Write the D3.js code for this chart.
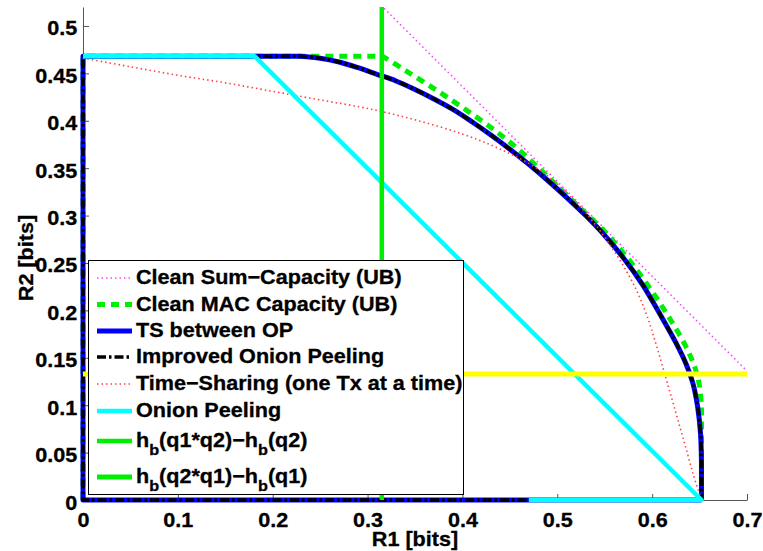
<!DOCTYPE html>
<html>
<head>
<meta charset="utf-8">
<script src="https://cdn.jsdelivr.net/npm/d3@7"></script>
<style>
  body { margin: 0; background: #fff; }
  svg text { font-family: "Liberation Sans", Arial, Helvetica, sans-serif; font-weight: bold;
             stroke: #000; stroke-width: 0.3px; }
</style>
</head>
<body>
<div id="container"></div>
<script>
// ---------------------------- DATA ----------------------------//
var xTicks = [0, 0.1, 0.2, 0.3, 0.4, 0.5, 0.6, 0.7];
var xTickLabels = ["0", "0.1", "0.2", "0.3", "0.4", "0.5", "0.6", "0.7"];
var yTicks = [0, 0.05, 0.1, 0.15, 0.2, 0.25, 0.3, 0.35, 0.4, 0.45, 0.5];
var yTickLabels = ["0", "0.05", "0.1", "0.15", "0.2", "0.25", "0.3", "0.35", "0.4", "0.45", "0.5"];

// [R1, R2] pairs
var sumCapacity = [[0.20, 0.636], [0.70, 0.136]];
var macCapacity = [[0, 0], [0, 0.468], [0.316, 0.468], [0.34, 0.453], [0.37, 0.434], [0.40, 0.414],
  [0.43, 0.393], [0.46, 0.369], [0.49, 0.341], [0.52, 0.312], [0.55, 0.283], [0.575, 0.254],
  [0.60, 0.220], [0.62, 0.189], [0.635, 0.163], [0.645, 0.140], [0.650, 0.120], [0.652, 0.098],
  [0.652, 0]];
var tsBetweenOP = [[0.652, 0], [0, 0], [0, 0.468], [0.229, 0.468], [0.25, 0.466], [0.27, 0.462],
  [0.29, 0.456], [0.31, 0.449], [0.33, 0.442], [0.35, 0.433], [0.37, 0.423], [0.39, 0.412],
  [0.41, 0.399], [0.43, 0.385], [0.45, 0.370], [0.47, 0.354], [0.49, 0.337], [0.51, 0.319],
  [0.53, 0.300], [0.55, 0.279], [0.57, 0.255], [0.59, 0.227], [0.61, 0.193], [0.625, 0.166],
  [0.636, 0.143], [0.643, 0.123], [0.648, 0.098], [0.651, 0.070], [0.652, 0.04], [0.652, 0]];
var improvedOP = tsBetweenOP;
var timeSharing = [[0, 0.466], [0.05, 0.457], [0.10, 0.448], [0.15, 0.440], [0.20, 0.431],
  [0.25, 0.422], [0.30, 0.413], [0.35, 0.401], [0.40, 0.386], [0.44, 0.370], [0.48, 0.349],
  [0.51, 0.324], [0.535, 0.297], [0.555, 0.270], [0.572, 0.243], [0.585, 0.218], [0.595, 0.193],
  [0.603, 0.168], [0.611, 0.141], [0.619, 0.113], [0.627, 0.085], [0.635, 0.057], [0.643, 0.028],
  [0.652, 0]];
var onionPeeling = [[0, 0.468], [0.181, 0.468], [0.652, 0], [0.47, 0]];
var hbLine1 = [[0.315, 0], [0.315, 0.6]];
var hbLine2 = [[0, 0.133], [0.7, 0.133]];

var legendLabels = ["Clean Sum\u2212Capacity (UB)", "Clean MAC Capacity (UB)", "TS between OP",
  "Improved Onion Peeling", "Time\u2212Sharing (one Tx at a time)", "Onion Peeling",
  "h_b(q1*q2)\u2212h_b(q2)", "h_b(q2*q1)\u2212h_b(q1)"];

// ---------------------------- SETUP ----------------------------//
var width = 763, height = 551;
var fontSize = 20;
var stretchX = 1.08;   // the reference glyphs are a bit wider than Liberation Sans

var svg = d3.select("div#container").append("svg")
    .attr("width", width)
    .attr("height", height);

var xScale = d3.scaleLinear().domain([0, 0.7]).range([83, 747]);
var yScale = d3.scaleLinear().domain([0, 0.52]).range([500, 7]);

svg.append("clipPath").attr("id", "plotclip")
    .append("rect")
    .attr("x", xScale(0) - 4).attr("y", yScale(0.52))
    .attr("width", xScale(0.7) - xScale(0) + 4)
    .attr("height", yScale(0) - yScale(0.52) + 4);

// widen a text horizontally around its anchor x
function stretch(sel, pre) {
  sel.each(function() {
    var t = d3.select(this);
    var ax = +t.attr("x") || 0;
    t.attr("transform", (pre || "") + "translate(" + ax + ",0) scale(" + stretchX + ",1) translate(" + (-ax) + ",0)");
  });
}

// ---------------------------- AXES ----------------------------//
var xaxis = d3.axisBottom(xScale)
    .tickValues(xTicks)
    .tickFormat(function(d, i) { return xTickLabels[i]; })
    .tickSizeInner(-6).tickSizeOuter(0).tickPadding(12.5);
var yaxis = d3.axisLeft(yScale)
    .tickValues(yTicks)
    .tickFormat(function(d, i) { return yTickLabels[i]; })
    .tickSizeInner(-6).tickSizeOuter(0).tickPadding(5.7);

var gx = svg.append("g").attr("transform", "translate(0," + yScale(0) + ")").call(xaxis);
var gy = svg.append("g").attr("transform", "translate(" + xScale(0) + ",0)").call(yaxis);
[gx, gy].forEach(function(g) {
  g.select(".domain").attr("stroke", "#555");
  g.selectAll(".tick line").attr("stroke", "#555");
  g.selectAll(".tick text").attr("fill", "#000").style("font-size", fontSize + "px")
    .style("font-family", "'Liberation Sans', Arial, sans-serif").style("font-weight", "bold");
});
gy.selectAll(".tick text").attr("dy", "0.45em");
stretch(gx.selectAll(".tick text"));
stretch(gy.selectAll(".tick text"));

svg.append("text")
    .attr("x", 415).attr("y", 546)
    .style("text-anchor", "middle").style("font-size", fontSize + "px")
    .text("R1 [bits]")
    .call(stretch);
svg.append("text")
    .attr("transform", "translate(33,258) rotate(-90) scale(" + stretchX + ",1)")
    .style("text-anchor", "middle").style("font-size", fontSize + "px")
    .text("R2 [bits]");

// ---------------------------- LINES ----------------------------//
var line = d3.line()
    .x(function(d) { return xScale(d[0]); })
    .y(function(d) { return yScale(d[1]); });
var smoothLine = d3.line()
    .x(function(d) { return xScale(d[0]); })
    .y(function(d) { return yScale(d[1]); })
    .curve(d3.curveCatmullRom.alpha(0.5));

// straight axis-aligned pieces stay straight, the rest is smoothed
function pathFor(pts) {
  var runs = [];
  for (var k = 0; k < pts.length - 1; k++) {
    var a = pts[k], b = pts[k + 1];
    var smooth = !(a[0] === b[0] || a[1] === b[1]);
    var last = runs[runs.length - 1];
    if (last && last.smooth === smooth) last.pts.push(b);
    else runs.push({ smooth: smooth, pts: [a, b] });
  }
  return runs.map(function(r, j) {
    var p = (r.smooth ? smoothLine : line)(r.pts);
    return j ? p.replace(/^M/, "L") : p;
  }).join("");
}

var series = [
  { data: sumCapacity, color: "#ff44ff", width: 1.6, dash: "1.5,3" },
  { data: macCapacity, color: "#00ee00", width: 5, dash: "8,6" },
  { data: tsBetweenOP, color: "#0000ff", width: 5, dash: null },
  { data: improvedOP, color: "#000000", width: 3.5, dash: "9,3,2.5,3" },
  { data: timeSharing, color: "#ff4444", width: 1.6, dash: "1.5,3" },
  { data: onionPeeling, color: "#00ffff", width: 4.5, dash: null },
  { data: hbLine1, color: "#00ee00", width: 4.5, dash: null },
  { data: hbLine2, color: "#ffff00", width: 5, dash: null }
];
var legendColors = ["#ff44ff", "#00ee00", "#0000ff", "#000000", "#ff4444", "#00ffff", "#00ee00", "#00ee00"];

var plot = svg.append("g").attr("clip-path", "url(#plotclip)");
plot.selectAll("path.series")
    .data(series)
    .enter()
    .append("path")
    .attr("class", "series")
    .attr("d", function(d) { return pathFor(d.data); })
    .attr("fill", "none")
    .attr("stroke", function(d) { return d.color; })
    .attr("stroke-width", function(d) { return d.width; })
    .attr("stroke-dasharray", function(d) { return d.dash; })
    .attr("stroke-linejoin", "round");

// ---------------------------- LEGEND ----------------------------//
var legend = svg.append("g");
legend.append("rect")
    .attr("x", 88.5).attr("y", 260.5)
    .attr("width", 375).attr("height", 234)
    .attr("fill", "#fff").attr("stroke", "#000").attr("stroke-width", 1);

var rowSteps = [0, 26.5, 26.5, 26, 27, 27, 30, 36];
var rowY = [];
rowSteps.reduce(function(acc, s) { acc += s; rowY.push(acc); return acc; }, 278);

legendLabels.forEach(function(label, i) {
  var s = series[i];
  var yy = rowY[i];
  legend.append("line")
      .attr("x1", 97).attr("x2", 132).attr("y1", yy).attr("y2", yy)
      .attr("stroke", legendColors[i])
      .attr("stroke-width", s.width)
      .attr("stroke-dasharray", s.dash);
  var t = legend.append("text")
      .attr("x", 136).attr("y", yy + 6.5)
      .style("font-size", fontSize + "px");
  var shift = 0;
  label.split(/(_b)/).forEach(function(part) {
    if (part === "_b") {
      t.append("tspan").attr("dy", 8).style("font-size", "15px").text("b");
      shift = -8;
    } else if (part.length) {
      t.append("tspan").attr("dy", shift).text(part);
      shift = 0;
    }
  });
  stretch(t);
});
</script>
</body>
</html>
